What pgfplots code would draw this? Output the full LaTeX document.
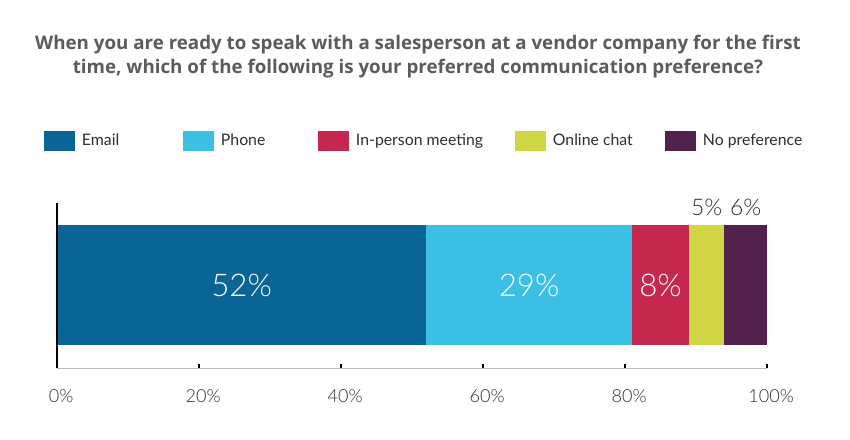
\documentclass[border=0pt]{standalone}
\usepackage{pgfplots}
\pgfplotsset{compat=1.18}
\usepackage{fontspec}
\setmainfont{Lato}
\newfontfamily\lightfont{Lato Light}
\newfontfamily\titlefont{Open Sans}
\definecolor{cEmail}{HTML}{0B6496}
\definecolor{cPhone}{HTML}{3BBFE5}
\definecolor{cMeet}{HTML}{C4284F}
\definecolor{cChat}{HTML}{D0D544}
\definecolor{cNone}{HTML}{53214E}
\definecolor{titlegray}{HTML}{5B5B5B}
\definecolor{textdark}{HTML}{2E2E2E}

\pgfplotsset{barframe/.style={
  scale only axis,
  width=511.2pt, height=118.8pt,
  at={(41.04pt,51.12pt)}, anchor=south west,
  xmin=0, xmax=100, ymin=0, ymax=165, clip=false}}

\begin{document}
\begin{tikzpicture}[x=0.72pt,y=0.72pt]
\useasboundingbox (0,0) rectangle (850,439);
\node[font=\titlefont\bfseries\fontsize{13.5}{17.3}\selectfont, text=titlegray, align=center]
  at (418,382) {When you are ready to speak with a salesperson at a vendor company for the first\\
  time, which of the following is your preferred communication preference?};
\begin{axis}[
  barframe,
  xbar stacked, bar width=120,
  axis x line=bottom, axis y line=left,
  axis line style={-},
  x axis line style={draw=gray!55, line width=0.6pt},
  y axis line style={draw=black, line width=1.1pt},
  ytick=\empty,
  xtick={0,20,40,60,80,100},
  xticklabels={0\%,20\%,40\%,60\%,80\%,100\%},
  tick style={black, line width=1.1pt},
  major tick length=3pt, tick align=inside,
  xticklabel style={anchor=center, yshift=-20pt, xshift=3pt,
    font=\lightfont\fontsize{13}{13}\selectfont, text=textdark},
  axis on top,
  legend columns=-1,
  legend style={at={(axis description cs:-0.0183,1.3758)}, anchor=west,
    draw=none, fill=none, inner sep=0pt, outer sep=0pt,
    column sep=0pt,
    nodes={inner sep=0pt, font=\fontsize{11.4}{11.4}\selectfont, text=textdark}},
  legend image code/.code={\fill[#1] (0pt,-7.2pt) rectangle (22.3pt,7.2pt);},
]
\addplot[fill=cEmail, draw=none] coordinates {(52,83)};
\addlegendentry{\hspace{5pt}\makebox[72.8pt][l]{Email}}
\addplot[fill=cPhone, draw=none] coordinates {(29,83)};
\addlegendentry{\hspace{5pt}\makebox[69.9pt][l]{Phone}}
\addplot[fill=cMeet, draw=none] coordinates {(8,83)};
\addlegendentry{\hspace{5pt}\makebox[114.5pt][l]{In-person meeting}}
\addplot[fill=cChat, draw=none] coordinates {(5,83)};
\addlegendentry{\hspace{5pt}\makebox[80.7pt][l]{Online chat}}
\addplot[fill=cNone, draw=none] coordinates {(6,83)};
\addlegendentry{\hspace{5pt}No preference}
\end{axis}
% value labels, centred on each segment
\begin{axis}[barframe, hide axis, /pgf/number format/assume math mode=true]
\addplot[only marks, mark=none, point meta=explicit,
  nodes near coords={\pgfmathprintnumber{\pgfplotspointmeta}\%},
  nodes near coords align=center,
  every node near coord/.style={text=white, font=\lightfont\fontsize{22.5}{22.5}\selectfont}]
  table[meta=v] {
x    y  v
26   83 52
66.5 83 29
85   83 8
};
\addplot[only marks, mark=none, point meta=explicit,
  nodes near coords={\pgfmathprintnumber{\pgfplotspointmeta}\%},
  nodes near coords align=center,
  every node near coord/.style={text=textdark, font=\lightfont\fontsize{16.5}{16.5}\selectfont}]
  table[meta=v] {
x    y   v
91.5 161 5
97   161 6
};
\end{axis}
\end{tikzpicture}
\end{document}
